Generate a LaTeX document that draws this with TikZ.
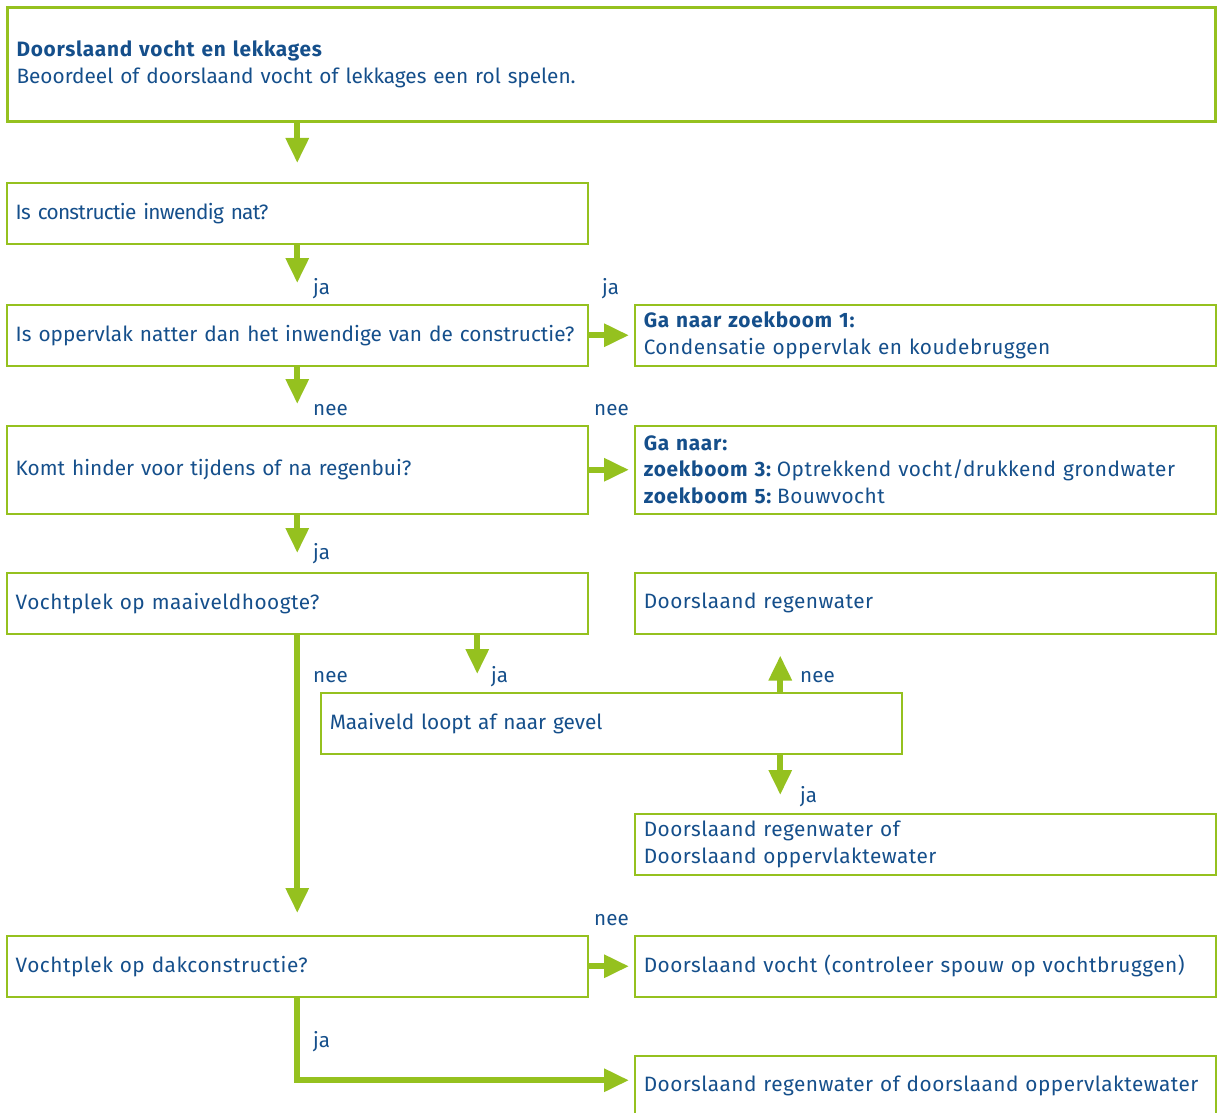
\documentclass[tikz,border=0pt]{standalone}
\usepackage{fontspec}
\setmainfont{Fira Sans}[BoldFeatures={LetterSpace=3.5}]
\usetikzlibrary{arrows.meta,positioning}
\definecolor{bgreen}{HTML}{95C11F}
\definecolor{bblue}{HTML}{154F8B}
\tikzset{
  box/.style={draw=bgreen, line width=1.5pt, anchor=north west, minimum height=61pt,
    text width=563pt, inner xsep=9pt, inner ysep=0pt, align=left, text=bblue,
    font=\fontsize{20.8}{26.5}\selectfont},
  widebox/.style={box, font=\fontsize{20.8}{26.5}\selectfont\addfontfeatures{LetterSpace=2.4}},
  tightbox/.style={box, font=\fontsize{20.8}{26.5}\selectfont\addfontfeatures{LetterSpace=-3.5}},
  flow/.style={draw=bgreen, line width=6pt, -{Triangle[width=22pt,length=25pt]}},
  lbl/.style={anchor=base west, inner sep=0pt, text=bblue, font=\fontsize{20.6}{24}\selectfont},
}

\begin{document}
\begin{tikzpicture}[x=1pt, y=-1pt]
                \useasboundingbox (0,0) rectangle (1221,1113);
                % Boxes:
                \node[box, line width=3pt, text width=1190pt, minimum height=114pt] (intro) at (6,6)
                  {\textbf{Doorslaand vocht en lekkages}\\Beoordeel of doorslaand vocht of lekkages een rol spelen.};
                \node[tightbox] (nat) at (6,182) {Is constructie inwendig nat?};
                \node[box] (opp) at (6,304) {Is oppervlak natter dan het inwendige van de constructie?};
                \node[widebox] (zb1) at (634,304) {\textbf{Ga naar zoekboom 1:}\\Condensatie oppervlak en koudebruggen};
                \node[box, minimum height=88pt] (regen) at (6,425) {Komt hinder voor tijdens of na regenbui?};
                \node[widebox, minimum height=88pt] (zb35) at (634,425)
                  {\textbf{Ga naar:}\\\textbf{zoekboom 3:}\hspace{5pt}Optrekkend vocht/drukkend grondwater\\\textbf{zoekboom 5:}\hspace{5pt}Bouwvocht};
                \node[widebox] (vmaai) at (6,572) {Vochtplek op maaiveldhoogte?};
                \node[widebox] (dreg) at (634,572) {Doorslaand regenwater};
                \node[box] (mlg) at (320,692) {Maaiveld loopt af naar gevel};
                \node[widebox] (dro) at (634,813) {Doorslaand regenwater of\\Doorslaand oppervlaktewater};
                \node[widebox] (dak) at (6,935) {Vochtplek op dakconstructie?};
                \node[widebox] (dvs) at (634,935) {Doorslaand vocht (controleer spouw op vochtbruggen)};
                \node[widebox] (dov) at (634,1055) {Doorslaand regenwater of doorslaand oppervlaktewater};
                % Arrows:
                \coordinate (jaX) at ([xshift=180pt]vmaai.south);
                \coordinate (neeUp) at ([xshift=169pt]mlg.north);
                \coordinate (jaDown) at ([xshift=169pt]mlg.south);
                \draw[flow, shorten >=19pt] (intro.south -| nat.south) -- (nat.north);
                \draw[flow, shorten >=21pt] (nat.south) -- (opp.north);
                \draw[flow, shorten >=5pt] (opp.east) -- (zb1.west);
                \draw[flow, shorten >=21pt] (opp.south) -- (regen.north);
                \draw[flow, shorten >=5pt] (regen.east) -- (zb35.west);
                \draw[flow, shorten >=19pt] (regen.south) -- (vmaai.north);
                \draw[flow, shorten >=18pt] (jaX) -- (jaX |- mlg.north);
                \draw[flow, shorten >=21pt] (neeUp) -- (neeUp |- dreg.south);
                \draw[flow, shorten >=18pt] (jaDown) -- (jaDown |- dro.north);
                \draw[flow, shorten >=22pt] (vmaai.south) -- (dak.north);
                \draw[flow, shorten >=5pt] (dak.east) -- (dvs.west);
                \draw[flow, shorten >=5pt] (dak.south) |- ([yshift=6pt]dov.west);
                % Labels:
                \node[lbl] (lja1) at (313,294) {ja};
                \node[lbl] (ljazb1) at (602,294) {ja};
                \node[lbl] (lnee1) at (313,415) {nee};
                \node[lbl] (lneezb) at (594,415) {nee};
                \node[lbl] (lja2) at (313,559) {ja};
                \node[lbl] (lnee2) at (313,682) {nee};
                \node[lbl] (lja3) at (491,682) {ja};
                \node[lbl] (lnee3) at (800,682) {nee};
                \node[lbl] (lja4) at (800,802) {ja};
                \node[lbl] (lnee4) at (594,925) {nee};
                \node[lbl] (lja5) at (313,1047) {ja};
            \end{tikzpicture}
\end{document}
